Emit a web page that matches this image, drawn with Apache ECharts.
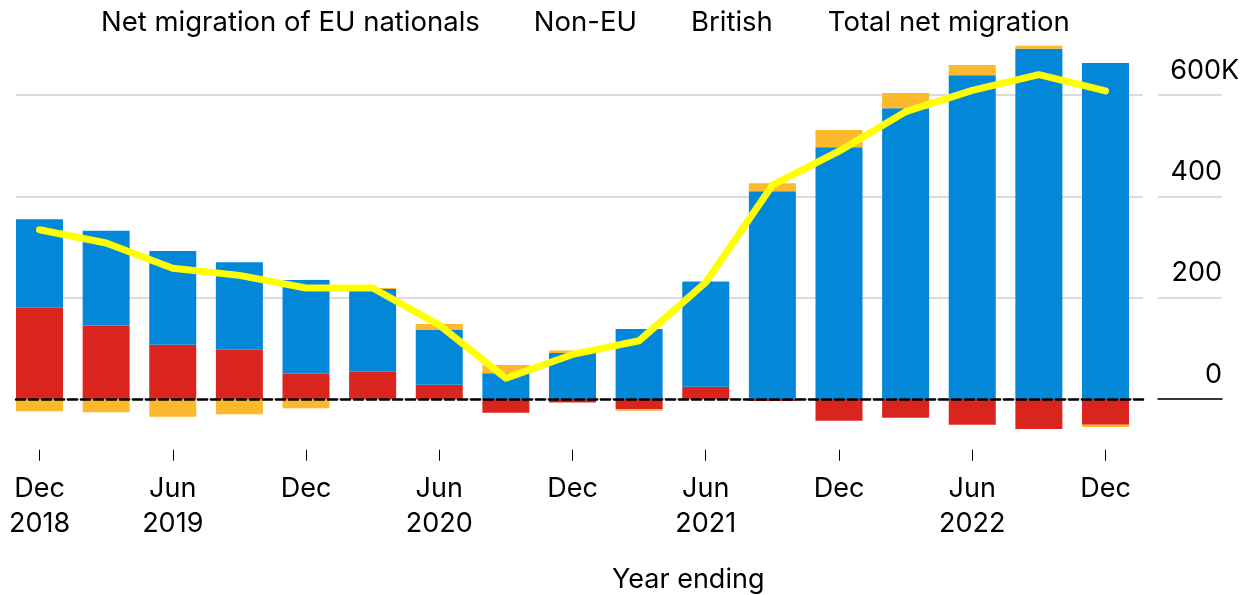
<!DOCTYPE html>
<html><head><meta charset="utf-8">
<script src="https://cdn.jsdelivr.net/npm/echarts@6/dist/echarts.min.js"></script>
<style>html,body{margin:0;padding:0;background:#fff}#c{width:1248px;height:595px}</style>
</head><body><div id="c"></div>
<script>
const categories = ['Dec 2018','Mar 2019','Jun 2019','Sep 2019','Dec 2019','Mar 2020','Jun 2020','Sep 2020','Dec 2020','Mar 2021','Jun 2021','Sep 2021','Dec 2021','Mar 2022','Jun 2022','Sep 2022','Dec 2022'];
const xTickLabels = ['Dec\n2018','','Jun\n2019','','Dec','','Jun\n2020','','Dec','','Jun\n2021','','Dec','','Jun\n2022','','Dec'];
const euNationals = [180,145,107,97,50,54,28,-27,-7,-20,24,-4,-43,-37,-51,-59,-51];
const nonEU = [175,187,185,173,185,163,108,51,91,138,207,410,497,574,639,691,663];
const british = [-24,-26,-35,-30,-18,2,12,16,5,-3,2,16,34,30,20,6,-4];
const totalNet = [334,308,258,244,219,219,146,41,88,115,230,422,489,567,609,640,608];
const yTickTop = 600;
const seriesNames = ['Net migration of EU nationals','Non-EU','British','Total net migration'];

const FONT = 'Inter';
const FS = 27;
const chart = echarts.init(document.getElementById('c'), null, {renderer:'canvas'});
const gridTop = 95, gridBottom = 196; // 600 .. 0 band
chart.setOption({
  animation: false,
  backgroundColor: '#fff',
  textStyle: {fontFamily: FONT},
  title: {text: 'Year ending', left: 612, top: 566, padding: 0,
    textStyle: {fontFamily: FONT, fontSize: FS, fontWeight: 'normal', color: '#000'}},
  legend: {
    data: seriesNames, left: 96, top: 9, padding: 0, itemGap: 49,
    itemWidth: 0, itemHeight: 0, selectedMode: false,
    textStyle: {fontFamily: FONT, fontSize: 27.5, color: '#000'}
  },
  grid: [
    {left: 16, right: 105, top: gridTop, bottom: gridBottom},
    {left: 6.2, right: 109.2, top: 44.3, bottom: 145.3},
    {left: 1158, right: 26, top: gridTop, bottom: gridBottom}
  ],
  xAxis: [
    {gridIndex: 0, type: 'value', min: 0, max: 1, z: 6,
      axisLine: {show: true, lineStyle: {color: '#000', width: 2.5, type: [9, 4]}},
      axisTick: {show: false}, axisLabel: {show: false}, splitLine: {show: false}},
    {gridIndex: 1, type: 'category', data: categories, position: 'bottom',
      axisLine: {show: false, onZero: false},
      axisTick: {show: true, interval: 1, alignWithLabel: true, length: 11, lineStyle: {color: '#000', width: 1}},
      axisLabel: {interval: 0, margin: 22, fontFamily: FONT, fontSize: FS, color: '#000', lineHeight: 35,
        formatter: (v, i) => xTickLabels[i]}},
    {gridIndex: 2, type: 'value', min: 0, max: 1,
      axisLine: {show: true, lineStyle: {color: '#000', width: 1.5}},
      axisTick: {show: false}, axisLabel: {show: false}, splitLine: {show: false}}
  ],
  yAxis: [
    {gridIndex: 0, type: 'value', min: 0, max: yTickTop, interval: 200,
      axisLine: {show: false}, axisTick: {show: false}, axisLabel: {show: false},
      splitLine: {lineStyle: {color: '#dcdcdc', width: 2}}},
    {gridIndex: 1, type: 'value', min: -100, max: 700, show: false, splitLine: {show: false}},
    {gridIndex: 2, type: 'value', min: 0, max: yTickTop, interval: 200, position: 'right',
      axisLine: {show: false}, axisTick: {show: false},
      axisLabel: {inside: true, align: 'right', verticalAlign: 'bottom', margin: 0, padding: [0, 0, 11, 0],
        fontFamily: FONT, fontSize: FS, color: '#000',
        formatter: v => v === yTickTop ? '{n|' + v + '}{k|K}' : String(v),
        rich: {
          n: {align: 'left', fontFamily: FONT, fontSize: FS, color: '#000'},
          k: {width: 1, align: 'left', fontFamily: FONT, fontSize: FS, color: '#000'}
        }},
      splitLine: {lineStyle: {color: '#dcdcdc', width: 2}}}
  ],
  series: [
    {name: seriesNames[0], type: 'bar', stack: 'm', xAxisIndex: 1, yAxisIndex: 1, barWidth: 47,
      itemStyle: {color: '#d9251d'}, data: euNationals},
    {name: seriesNames[1], type: 'bar', stack: 'm', xAxisIndex: 1, yAxisIndex: 1, barWidth: 47,
      itemStyle: {color: '#0287d9'}, data: nonEU},
    {name: seriesNames[2], type: 'bar', stack: 'm', xAxisIndex: 1, yAxisIndex: 1, barWidth: 47,
      itemStyle: {color: '#fdb92e'}, data: british},
    {name: seriesNames[3], type: 'line', xAxisIndex: 1, yAxisIndex: 1, z: 10,
      symbol: 'none', lineStyle: {color: '#ffff00', width: 7, cap: 'round', join: 'round'},
      itemStyle: {color: '#ffff00'}, data: totalNet}
  ]
});
</script></body></html>
